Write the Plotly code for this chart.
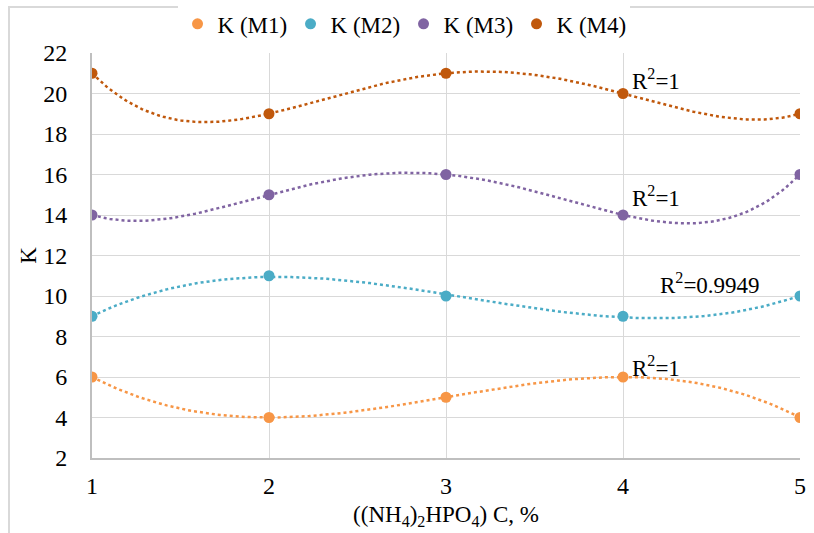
import numpy as np
import plotly.graph_objects as go

x_vals = [1, 2, 3, 4, 5]
series_names = ["K (M1)", "K (M2)", "K (M3)", "K (M4)"]
m1 = [6, 4, 5, 6, 4]
m2 = [9, 11, 10, 9, 10]
m3 = [14, 15, 16, 14, 16]
m4 = [21, 19, 21, 20, 19]
colors = ["#F79646", "#4BACC6", "#8064A2", "#C0580C"]
trend_degree = [4, 3, 4, 4]
r2_labels = ["R<sup>2</sup>=1", "R<sup>2</sup>=0.9949", "R<sup>2</sup>=1", "R<sup>2</sup>=1"]
r2_pos = [(4.04, 6.5), (4.2, 10.6), (4.04, 14.9), (4.04, 20.7)]

FONT = "'Liberation Serif', 'Times New Roman', Times, serif"

fig = go.Figure()
xs = np.linspace(1, 5, 200)
for name, ys, col, deg in zip(series_names, [m1, m2, m3, m4], colors, trend_degree):
    coef = np.polyfit(x_vals, ys, deg)
    fig.add_trace(go.Scatter(x=xs, y=np.polyval(coef, xs), mode="lines",
                             line=dict(color=col, width=2.5, dash="dot"),
                             showlegend=False, hoverinfo="skip"))
for name, ys, col in zip(series_names, [m1, m2, m3, m4], colors):
    fig.add_trace(go.Scatter(x=x_vals, y=ys, mode="markers", name=name,
                             marker=dict(color=col, size=11)))

for (ax, ay), txt in zip(r2_pos, r2_labels):
    fig.add_annotation(x=ax, y=ay, text=txt, showarrow=False, xanchor="left",
                       yanchor="middle", font=dict(family=FONT, size=23, color="#000"))

fig.add_shape(type="rect", xref="paper", yref="paper",
              x0=(9 - 92) / 708, x1=1.2, y0=-0.5, y1=(458 - 7) / 405,
              line=dict(color="#D9D9D9", width=2), layer="below")

fig.update_layout(
    width=814, height=533,
    margin=dict(l=92, r=14, t=53, b=75, autoexpand=False),
    paper_bgcolor="white", plot_bgcolor="white",
    font=dict(family=FONT, size=23, color="#000"),
    legend=dict(orientation="h", x=0.44, y=1.072, xanchor="center", yanchor="middle",
                font=dict(family=FONT, size=23), itemwidth=30,
                entrywidth=68, entrywidthmode="pixels"),
    xaxis=dict(range=[1, 5], tickvals=x_vals, showgrid=True, gridcolor="#D9D9D9",
               gridwidth=1, showline=True, linecolor="#BFBFBF", linewidth=2,
               zeroline=False, ticks="", ticklabelstandoff=5, automargin=False,
               tickfont=dict(family=FONT, size=24),
               title=dict(text="((NH<sub>4</sub>)<sub>2</sub>HPO<sub>4</sub>) C, %",
                          standoff=8, font=dict(family=FONT, size=23))),
    yaxis=dict(range=[2, 22], dtick=2, showgrid=True, gridcolor="#D9D9D9",
               gridwidth=1, showline=True, linecolor="#BFBFBF", linewidth=2,
               zeroline=False, ticks="", ticklabelstandoff=18, automargin=False,
               tickfont=dict(family=FONT, size=24),
               title=dict(text="K", standoff=0, font=dict(family=FONT, size=23))),
)

fig.write_html("out.html")
